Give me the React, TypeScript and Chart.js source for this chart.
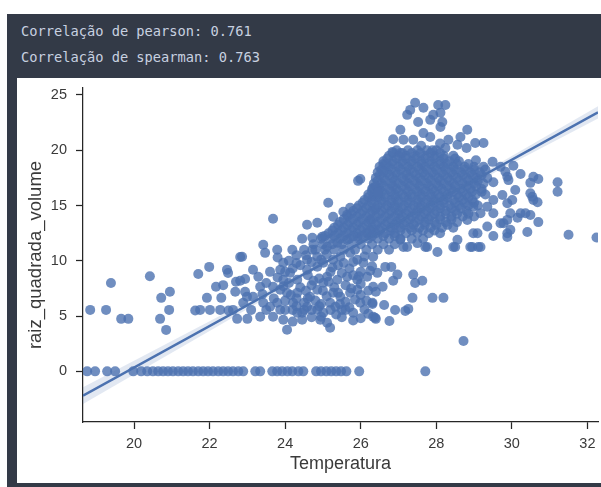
import React, { useEffect, useRef } from "react";
import { Chart, registerables } from "chart.js";

Chart.register(...registerables);

// ---- data (Temperatura, raiz_quadrada_volume) ----
const zeroRowTemps = [
  18.76, 18.97, 19.29, 19.5, 19.98, 20.19, 20.35, 20.5, 20.64, 20.77, 20.9, 21.03, 21.17,
  21.3, 21.43, 21.56, 21.7, 21.83, 21.96, 22.09, 22.23, 22.36, 22.49, 22.62, 22.76, 22.89,
  23.21, 23.34, 23.66, 23.79, 23.92, 24.06, 24.19, 24.35, 24.48, 24.82, 24.95, 25.09, 25.22,
  25.35, 25.48, 25.62, 25.96, 27.71,
];

const sparseLeftPoints: [number, number][] = [
  [18.84, 5.56], [19.26, 5.56], [19.39, 8.0], [19.66, 4.75], [19.85, 4.75], [20.42, 8.6],
  [20.72, 6.65], [20.95, 7.2], [20.93, 5.56], [20.69, 4.75], [20.85, 3.75], [21.62, 5.5],
  [21.75, 5.56], [22.01, 5.56], [22.28, 5.56], [22.5, 5.5], [22.62, 5.56], [21.7, 8.8],
  [21.99, 9.45], [22.17, 7.65], [22.36, 7.8], [21.93, 6.65], [22.31, 6.65], [22.46, 9.2],
  [22.49, 8.9], [22.81, 10.35], [22.7, 8.1], [22.94, 8.35], [22.81, 8.2], [22.68, 7.2],
  [22.94, 7.2], [22.73, 4.75], [23.0, 4.75], [22.86, 10.36],
];

const bandPoints: [number, number][] = [
  [23.42, 11.45], [23.79, 11.0], [24.19, 11.0], [23.47, 10.72], [23.68, 13.8], [24.58, 13.26],
  [24.85, 13.44], [24.45, 11.99], [24.72, 12.08], [24.98, 12.17], [25.14, 15.25], [25.93, 17.23],
  [25.27, 13.98], [25.54, 14.43], [25.72, 14.79], [25.64, 14.16], [24.58, 10.09], [24.85, 10.36],
  [24.72, 11.0], [25.11, 11.27], [25.38, 11.63], [25.64, 11.9], [25.91, 12.17], [26.17, 12.53],
  [26.33, 12.8], [26.25, 13.71], [26.38, 14.61], [26.33, 15.79], [26.44, 16.42],
  [23.15, 9.19], [23.29, 8.55], [23.34, 7.65], [23.95, 9.82], [23.87, 9.19], [24.13, 8.91],
  [23.95, 8.28], [23.68, 7.65], [24.32, 8.28], [24.58, 9.19], [24.85, 9.46], [25.01, 9.82],
  [25.27, 10.09], [25.46, 10.36], [25.72, 10.72], [25.91, 10.09], [26.07, 9.82], [26.33, 10.36],
  [25.11, 8.55], [25.38, 8.28], [25.64, 8.55], [25.91, 8.28], [26.17, 8.55], [26.44, 8.91],
  [22.89, 6.2], [23.15, 6.75], [23.42, 6.2], [23.6, 5.84], [23.79, 6.2], [23.87, 5.57],
  [23.34, 4.94], [23.68, 4.94], [23.95, 4.67], [24.21, 6.2], [24.32, 5.3], [24.45, 4.67],
  [24.58, 5.84], [24.66, 6.75], [24.85, 7.38], [25.01, 8.01], [24.85, 5.57], [25.01, 5.3],
  [24.93, 4.67], [25.11, 4.39], [25.19, 6.2], [25.27, 7.11], [25.46, 6.75], [25.33, 5.84],
  [25.72, 7.11], [25.91, 7.38], [25.99, 6.2], [26.31, 6.2], [26.33, 7.65], [26.33, 4.94],
  [24.05, 3.76], [25.19, 3.94], [25.8, 5.3], [26.38, 4.85], [22.99, 6.75], [24.05, 7.11],
  [24.32, 7.11], [23.87, 7.38], [23.1, 5.56], [23.5, 5.56], [24.0, 5.56], [24.2, 5.56],
  [24.5, 5.56], [24.7, 5.56], [25.2, 5.56], [25.5, 5.56], [25.6, 5.56],
  [24.3, 10.5], [24.1, 10.0], [24.4, 9.6], [24.7, 9.9], [25.1, 10.6], [25.4, 9.6], [25.7, 9.3],
  [26.0, 9.0], [26.3, 9.5], [24.2, 9.3], [24.6, 8.7], [24.9, 8.4], [25.2, 9.0], [25.5, 8.9],
  [25.8, 8.7], [26.0, 7.9], [25.6, 7.8], [25.3, 7.6], [25.0, 7.3], [24.7, 7.8], [24.4, 7.6],
  [24.1, 8.0], [23.8, 8.5], [23.5, 8.0], [23.4, 7.0], [23.7, 6.6], [24.0, 6.4], [24.5, 6.2],
  [24.8, 6.4], [25.1, 6.8], [25.6, 6.3], [26.0, 6.9], [26.2, 7.3], [24.9, 5.9], [24.3, 5.9],
  [25.7, 5.8], [26.1, 5.6], [26.0, 4.8], [25.5, 4.9], [24.7, 4.9], [24.2, 4.5],
  [24.15, 6.9], [24.55, 7.3], [24.75, 8.2], [25.15, 8.1], [25.4, 7.1], [25.75, 7.5],
  [25.85, 6.5], [26.15, 6.4], [25.45, 6.1], [24.95, 6.1], [24.6, 6.6], [24.3, 6.6],
  [23.95, 7.7], [24.3, 9.8], [24.55, 10.5], [24.95, 10.1], [25.25, 9.4], [25.55, 9.8],
  [25.8, 9.9], [26.1, 10.4], [26.25, 9.1], [25.95, 8.6], [24.0, 9.0], [23.6, 9.0],
  [23.8, 10.3], [24.45, 5.3], [24.95, 4.95], [25.35, 5.15], [25.8, 4.6], [26.2, 5.2],
];

const corePoints: [number, number][] = [
  [26.95, 20.0], [27.25, 20.0], [27.5, 20.0], [27.75, 20.0], [28.0, 20.0],
  [26.75, 19.5], [27.0, 19.5], [27.2, 19.5], [27.45, 19.5], [27.7, 19.5], [27.95, 19.5], [28.2, 19.5], [28.45, 19.5],
  [26.6, 19.0], [26.85, 19.0], [27.1, 19.0], [27.35, 19.0], [27.6, 19.0], [27.85, 19.0], [28.1, 19.0], [28.35, 19.0], [28.6, 19.0], [29.05, 19.1],
  [26.5, 18.5], [26.75, 18.5], [27.0, 18.5], [27.25, 18.5], [27.5, 18.5], [27.7, 18.5], [27.95, 18.5], [28.2, 18.5], [28.45, 18.5], [28.75, 18.5], [29.0, 18.5], [29.25, 18.5],
  [26.45, 18.0], [26.7, 18.0], [26.95, 18.0], [27.2, 18.0], [27.4, 18.0], [27.65, 18.0], [27.9, 18.0], [28.15, 18.0], [28.4, 18.0], [28.65, 18.0], [28.9, 18.0], [29.15, 18.0],
  [26.4, 17.5], [26.6, 17.5], [26.85, 17.5], [27.1, 17.5], [27.3, 17.5], [27.55, 17.5], [27.8, 17.5], [28.05, 17.5], [28.3, 17.5], [28.55, 17.5], [28.8, 17.5], [29.05, 17.5], [29.35, 17.5],
  [26.35, 17.0], [26.55, 17.0], [26.8, 17.0], [27.0, 17.0], [27.25, 17.0], [27.5, 17.0], [27.75, 17.0], [28.0, 17.0], [28.2, 17.0], [28.45, 17.0], [28.7, 17.0], [29.0, 17.0], [29.25, 17.0],
  [26.3, 16.5], [26.5, 16.5], [26.75, 16.5], [26.95, 16.5], [27.2, 16.5], [27.45, 16.5], [27.7, 16.5], [27.9, 16.5], [28.15, 16.5], [28.4, 16.5], [28.65, 16.5], [28.9, 16.5], [29.2, 16.5],
  [26.2, 16.0], [26.45, 16.0], [26.65, 16.0], [26.9, 16.0], [27.1, 16.0], [27.35, 16.0], [27.6, 16.0], [27.85, 16.0], [28.05, 16.0], [28.3, 16.0], [28.55, 16.0], [28.8, 16.0], [29.05, 16.0], [29.3, 16.0],
  [26.1, 15.5], [26.3, 15.5], [26.55, 15.5], [26.8, 15.5], [27.0, 15.5], [27.25, 15.5], [27.5, 15.5], [27.75, 15.5], [27.95, 15.5], [28.2, 15.5], [28.45, 15.5], [28.7, 15.5], [28.95, 15.5],
  [25.95, 15.0], [26.2, 15.0], [26.45, 15.0], [26.7, 15.0], [26.9, 15.0], [27.15, 15.0], [27.4, 15.0], [27.6, 15.0], [27.85, 15.0], [28.1, 15.0], [28.35, 15.0], [28.6, 15.0], [28.85, 15.0], [29.1, 15.0],
  [25.8, 14.5], [26.05, 14.5], [26.3, 14.5], [26.55, 14.5], [26.8, 14.5], [27.0, 14.5], [27.25, 14.5], [27.5, 14.5], [27.75, 14.5], [28.0, 14.5], [28.25, 14.5], [28.5, 14.5], [28.8, 14.5],
  [25.65, 14.0], [25.9, 14.0], [26.15, 14.0], [26.4, 14.0], [26.65, 14.0], [26.9, 14.0], [27.1, 14.0], [27.35, 14.0], [27.6, 14.0], [27.85, 14.0], [28.1, 14.0], [28.4, 14.0], [28.7, 14.0], [29.0, 14.0],
  [25.45, 13.5], [25.7, 13.5], [25.95, 13.5], [26.2, 13.5], [26.45, 13.5], [26.7, 13.5], [26.95, 13.5], [27.2, 13.5], [27.45, 13.5], [27.7, 13.5], [27.95, 13.5], [28.25, 13.5], [28.55, 13.5],
  [25.3, 13.0], [25.55, 13.0], [25.8, 13.0], [26.05, 13.0], [26.3, 13.0], [26.55, 13.0], [26.8, 13.0], [27.05, 13.0], [27.3, 13.0], [27.55, 13.0], [27.85, 13.0], [28.15, 13.0], [28.45, 13.0],
  [25.15, 12.5], [25.4, 12.5], [25.65, 12.5], [25.9, 12.5], [26.15, 12.5], [26.4, 12.5], [26.65, 12.5], [26.9, 12.5], [27.2, 12.5], [27.5, 12.5], [27.8, 12.5], [28.1, 12.5],
  [24.95, 12.0], [25.2, 12.0], [25.45, 12.0], [25.7, 12.0], [25.95, 12.0], [26.2, 12.0], [26.45, 12.0], [26.75, 12.0], [27.05, 12.0], [27.35, 12.0], [27.65, 12.0],
  [24.75, 11.5], [25.0, 11.5], [25.25, 11.5], [25.5, 11.5], [25.75, 11.5], [26.0, 11.5], [26.3, 11.5], [26.6, 11.5], [26.9, 11.5],
  [24.5, 11.0], [24.8, 11.0], [25.05, 11.0], [25.3, 11.0], [25.55, 11.0], [25.85, 11.0], [26.15, 11.0], [26.45, 11.0], [26.75, 11.0],
];

const coreFillPoints: [number, number][] = [
  [26.85, 19.75], [27.1, 19.75], [27.35, 19.75], [27.85, 19.75], [28.1, 19.75],
  [26.7, 19.25], [26.95, 19.25], [27.2, 19.25], [27.45, 19.25], [27.7, 19.25], [27.95, 19.25], [28.2, 19.25], [28.5, 19.25],
  [26.6, 18.75], [26.85, 18.75], [27.1, 18.75], [27.35, 18.75], [27.6, 18.75], [27.85, 18.75], [28.1, 18.75], [28.3, 18.75], [28.55, 18.75], [28.85, 18.75],
  [26.55, 18.25], [26.8, 18.25], [27.05, 18.25], [27.3, 18.25], [27.55, 18.25], [27.75, 18.25], [28.0, 18.25], [28.25, 18.25], [28.5, 18.25], [28.75, 18.25], [29.0, 18.25], [29.3, 18.25],
  [26.5, 17.75], [26.75, 17.75], [26.95, 17.75], [27.2, 17.75], [27.45, 17.75], [27.7, 17.75], [27.95, 17.75], [28.2, 17.75], [28.45, 17.75], [28.7, 17.75], [28.95, 17.75], [29.2, 17.75],
  [26.45, 17.25], [26.65, 17.25], [26.9, 17.25], [27.15, 17.25], [27.4, 17.25], [27.6, 17.25], [27.85, 17.25], [28.1, 17.25], [28.35, 17.25], [28.6, 17.25], [28.85, 17.25], [29.1, 17.25],
  [26.4, 16.75], [26.6, 16.75], [26.85, 16.75], [27.1, 16.75], [27.3, 16.75], [27.55, 16.75], [27.8, 16.75], [28.05, 16.75], [28.3, 16.75], [28.5, 16.75], [28.8, 16.75], [29.05, 16.75],
  [26.3, 16.25], [26.55, 16.25], [26.8, 16.25], [27.0, 16.25], [27.25, 16.25], [27.5, 16.25], [27.7, 16.25], [27.95, 16.25], [28.2, 16.25], [28.45, 16.25], [28.7, 16.25], [28.95, 16.25], [29.2, 16.25],
  [26.2, 15.75], [26.45, 15.75], [26.65, 15.75], [26.9, 15.75], [27.15, 15.75], [27.35, 15.75], [27.6, 15.75], [27.85, 15.75], [28.1, 15.75], [28.3, 15.75], [28.6, 15.75], [28.85, 15.75],
  [26.05, 15.25], [26.3, 15.25], [26.55, 15.25], [26.8, 15.25], [27.0, 15.25], [27.25, 15.25], [27.5, 15.25], [27.7, 15.25], [27.95, 15.25], [28.2, 15.25], [28.5, 15.25], [28.75, 15.25], [29.0, 15.25],
  [25.9, 14.75], [26.15, 14.75], [26.4, 14.75], [26.65, 14.75], [26.9, 14.75], [27.1, 14.75], [27.35, 14.75], [27.6, 14.75], [27.85, 14.75], [28.1, 14.75], [28.4, 14.75], [28.65, 14.75],
  [25.75, 14.25], [26.0, 14.25], [26.25, 14.25], [26.5, 14.25], [26.75, 14.25], [27.0, 14.25], [27.2, 14.25], [27.45, 14.25], [27.7, 14.25], [27.95, 14.25], [28.25, 14.25], [28.55, 14.25], [28.85, 14.25],
  [25.55, 13.75], [25.8, 13.75], [26.05, 13.75], [26.3, 13.75], [26.55, 13.75], [26.8, 13.75], [27.05, 13.75], [27.3, 13.75], [27.55, 13.75], [27.8, 13.75], [28.1, 13.75], [28.4, 13.75],
  [25.4, 13.25], [25.65, 13.25], [25.9, 13.25], [26.15, 13.25], [26.4, 13.25], [26.65, 13.25], [26.9, 13.25], [27.15, 13.25], [27.4, 13.25], [27.7, 13.25], [28.0, 13.25], [28.3, 13.25],
  [25.25, 12.75], [25.5, 12.75], [25.75, 12.75], [26.0, 12.75], [26.25, 12.75], [26.5, 12.75], [26.8, 12.75], [27.05, 12.75], [27.35, 12.75], [27.65, 12.75], [27.95, 12.75],
  [25.05, 12.25], [25.3, 12.25], [25.55, 12.25], [25.8, 12.25], [26.05, 12.25], [26.3, 12.25], [26.6, 12.25], [26.9, 12.25],
];

const topPoints: [number, number][] = [
  [27.44, 24.3], [27.66, 23.85], [28.05, 24.1], [28.24, 24.1], [28.11, 23.4], [27.23, 23.2],
  [27.31, 23.65], [27.52, 22.55], [27.84, 22.75], [27.92, 23.2], [27.05, 21.85], [26.86, 21.0],
  [27.13, 20.95], [27.39, 20.95], [27.66, 21.55], [27.84, 21.2], [28.11, 22.1], [28.16, 22.55],
  [28.82, 21.85], [28.64, 21.2], [28.32, 20.95], [28.56, 20.5], [29.03, 20.65], [29.25, 20.65],
  [26.84, 19.85], [27.05, 19.75], [27.58, 19.75], [27.9, 20.0], [28.24, 20.2], [26.65, 18.7],
  [26.6, 18.05], [25.99, 17.4], [26.33, 16.6], [26.46, 16.15], [28.8, 20.2], [28.1, 20.6],
  [27.6, 20.4],
];

const rightPoints: [number, number][] = [
  [31.5, 12.35], [32.24, 12.1], [31.21, 17.1], [31.21, 16.25], [30.7, 13.5], [30.41, 12.6],
  [29.88, 12.15], [29.51, 12.25], [29.09, 12.5], [29.17, 11.25], [28.95, 11.25], [30.68, 15.3],
  [30.54, 15.8], [30.7, 17.4], [30.49, 17.05], [30.23, 17.85], [30.04, 18.6], [29.83, 18.05],
  [29.49, 18.95], [29.96, 14.3], [30.15, 13.9], [30.36, 14.3], [30.49, 14.15], [29.78, 13.4],
  [29.96, 12.8], [30.01, 15.5], [29.75, 15.95], [29.51, 15.5], [30.09, 16.4], [29.91, 17.3],
  [29.51, 17.1], [29.7, 18.5], [29.88, 17.6], [30.57, 17.6], [30.49, 16.1], [30.57, 15.5],
  [29.35, 14.9], [29.51, 14.3], [29.88, 13.7], [30.23, 14.3], [29.88, 12.5], [28.56, 11.9],
  [28.45, 11.25], [28.03, 10.8], [27.76, 11.25], [27.5, 11.6], [27.23, 11.25], [27.05, 11.9],
  [28.98, 12.5], [29.35, 13.1], [29.7, 13.4], [28.82, 13.7], [29.17, 14.3], [28.98, 14.9],
  [29.88, 15.2], [28.5, 11.25], [28.9, 11.25], [29.11, 11.25],
];

const lowerRightPoints: [number, number][] = [
  [26.4, 4.75], [26.76, 4.55], [26.31, 6.1], [26.62, 6.0], [26.91, 5.55], [27.18, 5.47],
  [27.26, 5.65], [27.37, 6.65], [27.9, 6.65], [28.19, 6.65], [26.4, 7.2], [26.58, 7.65],
  [26.86, 8.2], [26.97, 8.75], [27.39, 8.75], [27.44, 8.0], [27.63, 8.2], [26.65, 9.45],
  [26.81, 9.45], [27.13, 11.25], [27.71, 11.25], [28.72, 2.75],
];

// regression fit and confidence band
const regSlope = 1.88;
const regIntercept = -37.26;
const ciTemps = [18.65, 20, 22, 24, 26, 27, 28, 30, 32.28];
const ciHalfWidths = [0.76, 0.63, 0.44, 0.26, 0.11, 0.11, 0.17, 0.35, 0.56];

const xRange = [18.65, 32.28];
const yRange = [-4.58, 25.63];
const xTickValues = [20, 22, 24, 26, 28, 30, 32];
const yTickValues = [0, 5, 10, 15, 20, 25];

const BLUE = "#4c72b0";
const AXIS = "#262626";
const TEXT = "#3a3a3a";
const SANS = '"Liberation Sans", Arial, sans-serif';

export default function App() {
  const ref = useRef<HTMLCanvasElement>(null);

  useEffect(() => {
    if (!ref.current) return;
    const pointGroups = [sparseLeftPoints, bandPoints, corePoints, coreFillPoints, topPoints, rightPoints, lowerRightPoints];
    const scatterData = [
      ...zeroRowTemps.map((t) => ({ x: t, y: 0 })),
      ...pointGroups.flatMap((g) => g.map(([x, y]) => ({ x, y }))),
    ];
    const fit = (x: number) => regSlope * x + regIntercept;
    const lineData = xRange.map((x) => ({ x, y: fit(x) }));
    const upper = ciTemps.map((x, i) => ({ x, y: fit(x) + ciHalfWidths[i] }));
    const lower = ciTemps.map((x, i) => ({ x, y: fit(x) - ciHalfWidths[i] }));

    const chart = new Chart(ref.current, {
      type: "scatter",
      data: {
        datasets: [
          {
            type: "line",
            label: "fit",
            data: lineData,
            borderColor: BLUE,
            borderWidth: 2.5,
            pointRadius: 0,
            fill: false,
            order: 0,
          } as any,
          {
            type: "line",
            label: "ciUpper",
            data: upper,
            borderColor: "rgba(0,0,0,0)",
            borderWidth: 0,
            pointRadius: 0,
            fill: false,
            order: 1,
          } as any,
          {
            type: "line",
            label: "ciLower",
            data: lower,
            borderColor: "rgba(0,0,0,0)",
            borderWidth: 0,
            pointRadius: 0,
            fill: "-1",
            backgroundColor: "rgba(76,114,176,0.16)",
            order: 1,
          } as any,
          {
            type: "scatter",
            label: "pontos",
            data: scatterData,
            pointRadius: 5,
            pointHoverRadius: 5,
            backgroundColor: "rgba(76,114,176,0.8)",
            borderWidth: 0,
            order: 3,
          } as any,
        ],
      },
      options: {
        animation: false,
        responsive: false,
        devicePixelRatio: 1,
        layout: { autoPadding: false, padding: { left: 0, top: 10, right: 3, bottom: 0 } },
        plugins: { legend: { display: false }, tooltip: { enabled: false } },
        scales: {
          x: {
            type: "linear",
            min: xRange[0],
            max: xRange[1],
            afterBuildTicks: (s: any) => {
              s.ticks = xTickValues.map((v) => ({ value: v }));
            },
            afterFit: (s: any) => {
              s.height = 61;
              s.paddingLeft = 0;
              s.paddingRight = 0;
            },
            grid: {
              display: true,
              drawOnChartArea: false,
              drawTicks: true,
              tickLength: 7,
              tickWidth: 1.25,
              tickColor: AXIS,
            },
            border: { display: true, color: AXIS, width: 1.25 },
            ticks: {
              color: TEXT,
              font: { family: SANS, size: 14.5 },
              padding: 6,
              maxRotation: 0,
              autoSkip: false,
            },
            title: {
              display: true,
              text: "Temperatura",
              color: TEXT,
              font: { family: SANS, size: 18 },
              padding: { top: 0, bottom: 8 },
            },
          },
          y: {
            type: "linear",
            min: yRange[0],
            max: yRange[1],
            afterBuildTicks: (s: any) => {
              s.ticks = yTickValues.map((v) => ({ value: v }));
            },
            afterFit: (s: any) => {
              s.width = 66;
              s.paddingTop = 0;
              s.paddingBottom = 0;
            },
            grid: {
              display: true,
              drawOnChartArea: false,
              drawTicks: true,
              tickLength: 7,
              tickWidth: 1.25,
              tickColor: AXIS,
            },
            border: { display: true, color: AXIS, width: 1.25 },
            ticks: {
              color: TEXT,
              font: { family: SANS, size: 14.5 },
              padding: 9,
              autoSkip: false,
            },
            title: {
              display: true,
              text: "raiz_quadrada_volume",
              color: TEXT,
              font: { family: SANS, size: 18.5 },
              padding: { top: 8, bottom: 0 },
            },
          },
        },
      } as any,
    });
    return () => chart.destroy();
  }, []);

  return (
    <div
      style={{
        position: "fixed",
        left: 0,
        top: 0,
        width: 601,
        height: 487,
        background: "#ffffff",
        overflow: "hidden",
      }}
    >
      <div
        style={{
          position: "absolute",
          left: 7,
          top: 14,
          right: 0,
          bottom: 0,
          background: "#333a47",
        }}
      />
      <div
        style={{
          position: "absolute",
          left: 21,
          top: 18,
          fontFamily: '"DejaVu Sans Mono", "Liberation Mono", monospace',
          fontSize: 13.7,
          lineHeight: "26px",
          color: "#c8d1e0",
          whiteSpace: "pre",
        }}
      >
        <div>Correlação de pearson: 0.761</div>
        <div>Correlação de spearman: 0.763</div>
      </div>
      <div
        style={{
          position: "absolute",
          left: 17,
          top: 78,
          width: 584,
          height: 405,
          background: "#ffffff",
        }}
      >
        <canvas ref={ref} width={584} height={405} style={{ display: "block", width: 584, height: 405 }} />
      </div>
    </div>
  );
}
